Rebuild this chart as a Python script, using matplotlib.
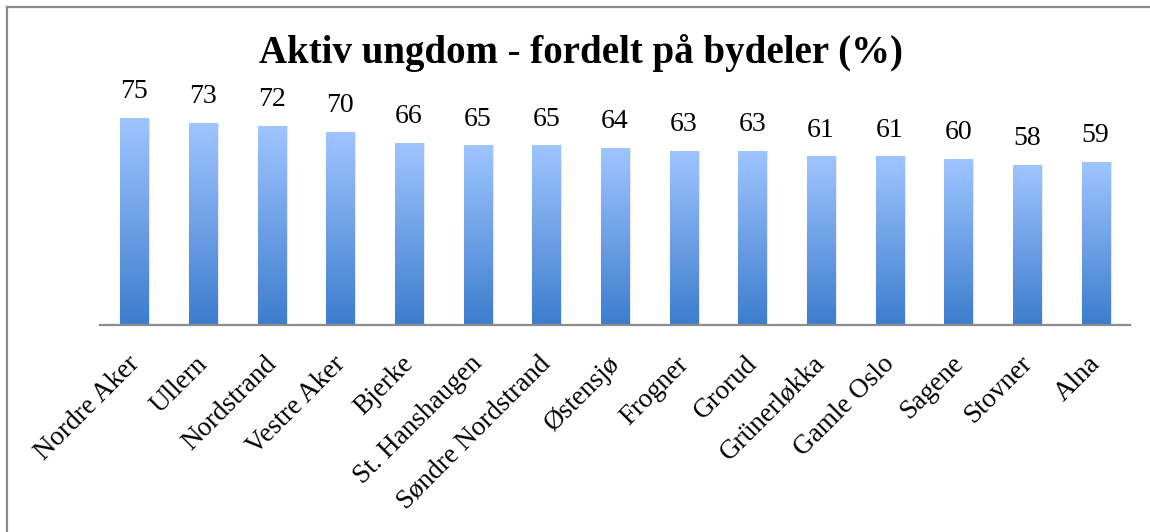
import numpy as np
import matplotlib
matplotlib.use("Agg")
import matplotlib.pyplot as plt
import matplotlib.transforms as mtransforms
from matplotlib.colors import LinearSegmentedColormap
from matplotlib.lines import Line2D

bydeler = ["Nordre Aker", "Ullern", "Nordstrand", "Vestre Aker", "Bjerke",
           "St. Hanshaugen", "Søndre Nordstrand", "Østensjø", "Frogner",
           "Grorud", "Grünerløkka", "Gamle Oslo", "Sagene", "Stovner", "Alna"]
andel = [75, 73, 72, 70, 66, 65, 65, 64, 63, 63, 61, 61, 60, 58, 59]

plt.rcParams["font.family"] = ["Liberation Serif", "DejaVu Serif"]

W, H = 1150, 532
fig = plt.figure(figsize=(W / 100, H / 100), dpi=100)
ax = fig.add_axes([100 / W, (H - 325) / H, 1030 / W, 221 / H])

x = np.arange(len(bydeler))
bars = ax.bar(x, andel, width=0.41, color="none", edgecolor="none", zorder=2)

# vertical gradient inside each bar (light on top, darker at base)
grad_cmap = LinearSegmentedColormap.from_list("blue", ["#3d7dce", "#9fc5ff"])
grad = np.linspace(0, 1, 256).reshape(-1, 1)
for b in bars:
    x0, w, h = b.get_x(), b.get_width(), b.get_height()
    # soft shadow on the right side
    ax.bar(x0 + w / 2 + 0.03, h, width=w, color="#d9d9d9", alpha=0.6,
           zorder=1, edgecolor="none")
    im = ax.imshow(grad, cmap=grad_cmap, origin="lower", aspect="auto",
                   extent=[x0, x0 + w, 0, h], zorder=3)
    im.set_clip_path(b)
    ax.annotate(f"{h:.0f}", (x0 + w / 2, h), xytext=(0, 10),
                textcoords="offset points", ha="center", va="bottom",
                fontsize=20, color="black")

ax.set_xlim(-0.5, len(bydeler) - 0.5)
ax.set_ylim(0, 80)
ax.set_yticks([])
ax.set_xticks(x)
ax.set_xticklabels(bydeler, rotation=45, ha="right", va="top",
                   rotation_mode="anchor", fontsize=19.5)
ax.tick_params(axis="x", length=0, pad=19)
shift = mtransforms.ScaledTranslation(-8 / 100, 0, fig.dpi_scale_trans)
for lbl in ax.get_xticklabels():
    lbl.set_transform(lbl.get_transform() + shift)
for s in ["top", "right", "left"]:
    ax.spines[s].set_visible(False)
ax.spines["bottom"].set_color("#8c8c8c")
ax.spines["bottom"].set_linewidth(1.6)
ax.spines["bottom"].set_zorder(4)
ax.patch.set_alpha(0)

fig.text(581 / W, 1 - 53 / H, "Aktiv ungdom - fordelt på bydeler (%)",
         ha="center", va="center", fontsize=28, fontweight="bold")

# chart frame (top and left edges visible)
fig.add_artist(Line2D([7 / W, 7 / W], [0, 1 - 7 / H], color="#8a8a8a",
                      linewidth=1.6, transform=fig.transFigure))
fig.add_artist(Line2D([7 / W, 1], [1 - 7 / H, 1 - 7 / H], color="#8a8a8a",
                      linewidth=1.6, transform=fig.transFigure))

fig.savefig("out.png", dpi=100)
